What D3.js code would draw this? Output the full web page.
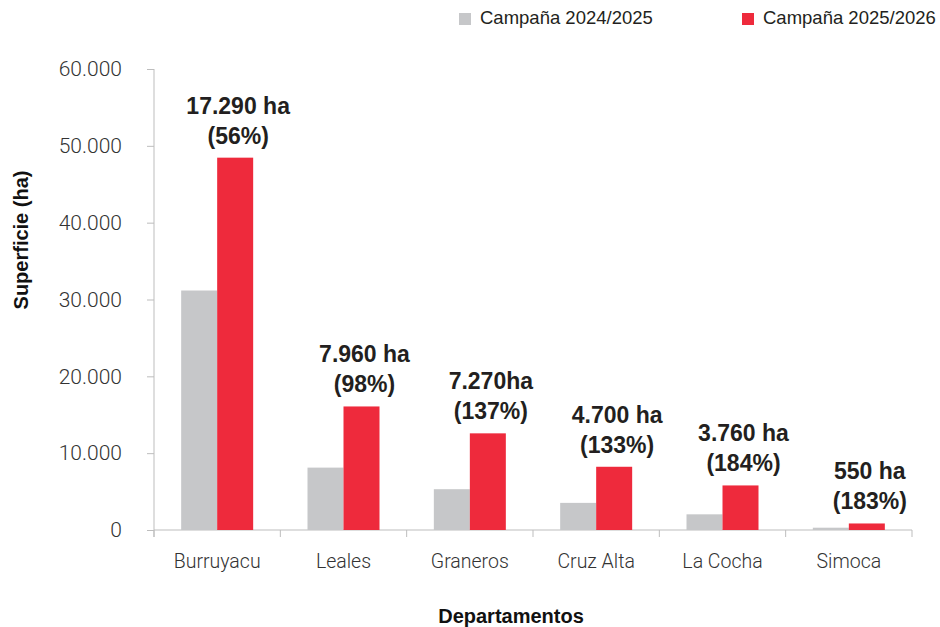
<!DOCTYPE html>
<html><head><meta charset="utf-8">
<script src="https://cdn.jsdelivr.net/npm/d3@7/dist/d3.min.js"></script>
<style>body{margin:0;background:#fff}svg{display:block}</style>
</head><body>
<svg id="chart" width="940" height="627"></svg>
<script>
const categories = ["Burruyacu","Leales","Graneros","Cruz Alta","La Cocha","Simoca"];
const seriesNames = ["Campaña 2024/2025","Campaña 2025/2026"];
const values2425 = [31170, 8120, 5310, 3530, 2040, 300];
const values2526 = [48460, 16080, 12580, 8230, 5800, 850];
const labelLine1 = ["17.290 ha","7.960 ha","7.270ha","4.700 ha","3.760 ha","550 ha"];
const labelLine2 = ["(56%)","(98%)","(137%)","(133%)","(184%)","(183%)"];
const yTicks = [0,10000,20000,30000,40000,50000,60000];
const colors = ["#c6c7c9","#ee2a3c"];

(function(){
const svg = d3.select("#chart");
const font = "'Liberation Sans', Arial, Helvetica, sans-serif";
const lightFont = "Roboto, 'Liberation Sans', Arial, sans-serif";
const pL = 154, pR = 912, pT = 69, pB = 530;

const x = d3.scaleBand().domain(categories).range([pL, pR]).paddingInner(0).paddingOuter(0);
const barW = 36;
const y = d3.scaleLinear().domain([0, 60000]).range([pB, pT]);

const fmt = v => d3.format(",")(v).replace(/,/g, ".");

// Y axis
const yAxis = svg.append("g").attr("transform", `translate(${pL},0)`)
  .call(d3.axisLeft(y).tickValues(yTicks).tickFormat(fmt).tickSize(7).tickPadding(25));
yAxis.select(".domain").attr("stroke", "#bdbdbd").attr("d", `M0,${pT}V${pB+7}`);
yAxis.selectAll(".tick line").attr("stroke", "#bdbdbd");
yAxis.selectAll(".tick text").attr("font-family", lightFont).attr("font-weight", 300)
  .attr("font-size", 21).attr("fill", "#333");

// X axis
const boundaries = categories.map(c => x(c)).concat([pR]);
const xg = svg.append("g");
xg.append("line").attr("x1", pL).attr("x2", pR).attr("y1", pB).attr("y2", pB).attr("stroke", "#bdbdbd");
xg.selectAll("line.bt").data(boundaries).enter().append("line").attr("class","bt")
  .attr("x1", d => d).attr("x2", d => d).attr("y1", pB).attr("y2", pB + 7).attr("stroke", "#bdbdbd");
xg.selectAll("text").data(categories).enter().append("text")
  .attr("x", d => x(d) + x.bandwidth()/2).attr("y", 568)
  .attr("text-anchor", "middle").attr("font-family", lightFont).attr("font-weight", 300)
  .attr("font-size", 19.5).attr("fill", "#333")
  .text(d => d);

// Bars
const sub = d3.scaleBand().domain([0,1]).range([-barW, barW]);
const g = svg.append("g");
[values2425, values2526].forEach((vals, si) => {
  g.selectAll(`rect.s${si}`).data(categories).enter().append("rect").attr("class", `s${si}`)
    .attr("x", d => x(d) + x.bandwidth()/2 + sub(si))
    .attr("y", (d,i) => y(vals[i]))
    .attr("width", sub.bandwidth())
    .attr("height", (d,i) => pB - y(vals[i]))
    .attr("fill", colors[si]);
});

// Labels
const lab = svg.append("g").attr("font-family", font).attr("font-weight", "bold").attr("font-size", 23).attr("fill", "#231f20").attr("text-anchor", "middle");
categories.forEach((c, i) => {
  const cx = x(c) + x.bandwidth()/2 + barW/2 + 3;
  const yt = y(values2526[i]);
  lab.append("text").attr("x", cx).attr("y", yt - 14).text(labelLine2[i]);
  lab.append("text").attr("x", cx).attr("y", yt - 44).text(labelLine1[i]);
});

// Axis titles
svg.append("text").attr("transform", "translate(28,240) rotate(-90)")
  .attr("text-anchor", "middle").attr("font-family", font).attr("font-weight", "bold").attr("font-size", 20)
  .attr("fill", "#111").text("Superficie (ha)");
svg.append("text").attr("x", 511).attr("y", 623)
  .attr("text-anchor", "middle").attr("font-family", font).attr("font-weight", "bold").attr("font-size", 20)
  .attr("fill", "#111").text("Departamentos");

// Legend
const legX = [459, 742];
const leg = svg.append("g");
seriesNames.forEach((s, i) => {
  leg.append("rect").attr("x", legX[i]).attr("y", 13).attr("width", 12).attr("height", 12).attr("fill", colors[i]);
  leg.append("text").attr("x", legX[i] + 21).attr("y", 24).attr("font-family", font).attr("font-size", 18.5)
    .attr("fill", "#231f20").text(s);
});
})();
</script>
</body></html>
